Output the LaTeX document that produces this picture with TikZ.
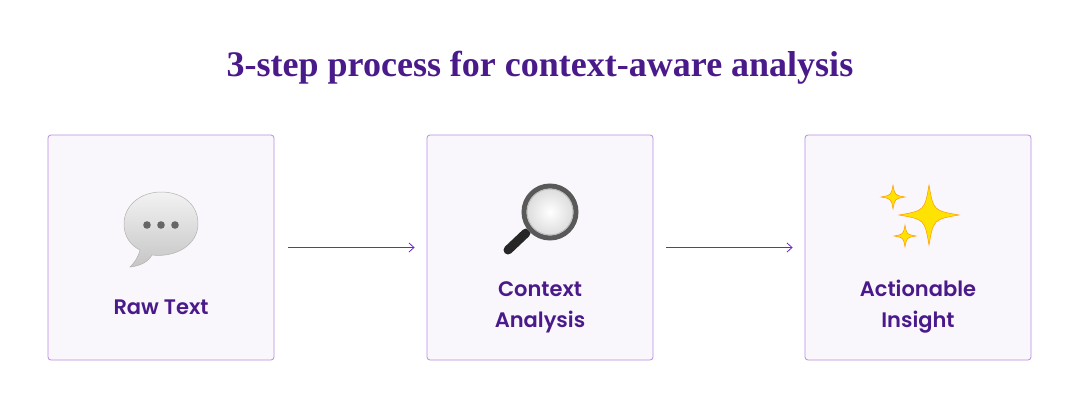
\documentclass[tikz,border=0pt]{standalone}
\usetikzlibrary{arrows.meta}
\usepackage{fontspec}
\setmainfont{Liberation Serif}
\IfFontExistsTF{Poppins SemiBold}{\newfontfamily\pop{Poppins SemiBold}}{\newfontfamily\pop{Poppins}[UprightFont=*,BoldFont=*]}
\begin{document}
\definecolor{pur}{HTML}{4A1A8A}
\definecolor{arrc}{HTML}{6A2CC0}
\definecolor{bord}{HTML}{B88DE0}
\definecolor{boxf}{HTML}{FAF7FC}
\begin{tikzpicture}[x=1pt,y=-1pt,
  box/.style={draw=bord,fill=boxf,rounded corners=3pt,minimum width=226pt,minimum height=225pt,line width=0.8pt},
  lbl/.style={text=pur,font=\pop\fontsize{21}{31}\selectfont,align=center},
  arr/.style={draw=arrc,line width=0.8pt,-{Straight Barb[length=5pt,width=9pt]}},
  star/.style={fill=yellow!85!orange,draw=orange!80!yellow,line width=0.5pt}]
\useasboundingbox (0,0) rectangle (1080,410);
\fill[white] (0,0) rectangle (1080,410);
\node[text=pur,font=\bfseries\fontsize{36}{40}\selectfont] (title) at (540,68) {3-step process for context-aware analysis};
\node[box] (b1) at (161,247.5) {};
\node[box] (b2) at (540,247.5) {};
\node[box] (b3) at (918,247.5) {};
\draw[arr] (b1.east)++(14,0) coordinate (a1s) -- ([xshift=-12pt]b2.west) coordinate (a1e);
\draw[arr] (b2.east)++(13,0) coordinate (a2s) -- ([xshift=-12pt]b3.west) coordinate (a2e);
\node[lbl] (l1) at (161,307) {Raw Text};
\node[lbl] (l2) at (540,307) {Context\\Analysis};
\node[lbl] (l3) at (918,307) {Actionable\\Insight};
% speech bubble
\shade[top color=gray!10,bottom color=gray!45,draw=gray!60,line width=0.5pt]
  (140,250) .. controls (138,258) and (134,263) .. (130,267) .. controls (140,266) and (148,262) .. (152,255)
  .. controls (175,258) and (198,245) .. (198,224) .. controls (198,203) and (181,192) .. (161,192)
  .. controls (141,192) and (124,205) .. (124,224) .. controls (124,236) and (130,245) .. (140,250) -- cycle;
\foreach \x in {147,161,175} \fill[gray!80!black] (\x,225) circle (3.8);
% magnifier
\draw[line width=9pt,line cap=round,black!85] (526,233) -- (508,250);
\draw[line width=5pt,gray!40] (528,230) -- (531,227);
\shade[inner color=white,outer color=gray!30,draw=gray!70!black,line width=5pt] (550,212) circle (26);
\draw[gray!50,line width=1pt] (550,212) circle (23);
% sparkles
\def\spark#1#2#3{\filldraw[star] (#1,#2-#3) .. controls (#1+0.15*#3,#2-0.15*#3) .. (#1+#3,#2) .. controls (#1+0.15*#3,#2+0.15*#3) .. (#1,#2+#3) .. controls (#1-0.15*#3,#2+0.15*#3) .. (#1-#3,#2) .. controls (#1-0.15*#3,#2-0.15*#3) .. (#1,#2-#3) -- cycle;}
\spark{929}{215}{30}
\spark{893}{197}{12}
\spark{905}{236}{11}
\end{tikzpicture}
\end{document}
